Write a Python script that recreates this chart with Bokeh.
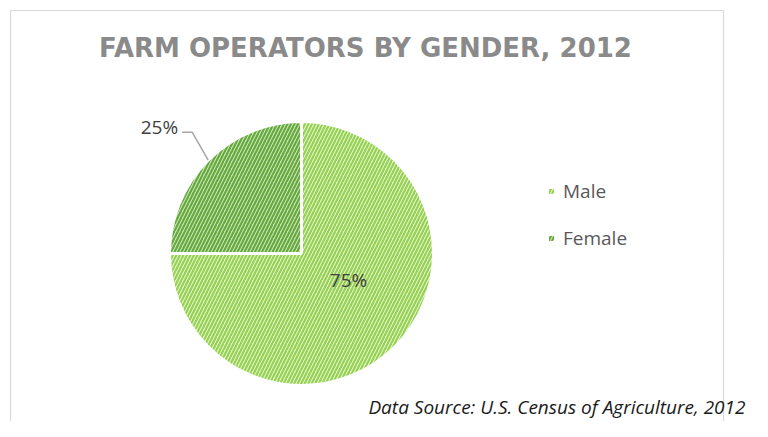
import math
from bokeh.plotting import figure
from bokeh.models import Range1d, ColumnDataSource, Legend, LegendItem
from bokeh.core.properties import value
from bokeh.embed import file_html
from bokeh.resources import INLINE

# ---- data ----
categories = ["Male", "Female"]
shares = [75, 25]
title_text = "FARM OPERATORS BY GENDER, 2012"
source_text = "Data Source: U.S. Census of Agriculture, 2012"

# ---- styles ----
fill_colors = {"Male": "#e3f4c6", "Female": "#c6e2b2"}
hatch_colors = {"Male": "#92d050", "Female": "#62a83a"}

W, H = 752, 421
p = figure(width=W, height=H, output_backend="svg", toolbar_location=None,
           x_range=Range1d(0, W), y_range=Range1d(0, H), min_border=0)
p.axis.visible = False
p.grid.visible = False
p.outline_line_color = None
p.background_fill_color = "white"

# chart frame border
p.quad(left=[10], right=[723], top=[411], bottom=[-30], fill_color=None,
       line_color="#d9d9d9", line_width=1.2)

cx, cy, r = 301, 168, 132

# pie: Female drawn first counterclockwise from top, then Male
order = ["Female", "Male"]
total = sum(shares)
start = math.pi / 2
renderers = {}
mids = {}
for cat in order:
    v = shares[categories.index(cat)]
    end = start + 2 * math.pi * v / total
    src = ColumnDataSource(dict(x=[cx], y=[cy], s=[start], e=[end]))
    renderers[cat] = p.wedge(x="x", y="y", radius=r, start_angle="s", end_angle="e",
                             source=src, fill_color=fill_colors[cat],
                             hatch_pattern="/", hatch_color=hatch_colors[cat],
                             hatch_scale=7, hatch_weight=2,
                             line_color="white", line_width=3)
    mids[cat] = (start + end) / 2
    start = end

# Labels
fa = mids["Female"]
ax_, ay_ = cx + r * math.cos(fa), cy + r * math.sin(fa)
p.line(x=[ax_, ax_ - 16, ax_ - 26], y=[ay_, ay_ + 28, ay_ + 28],
       line_color="#a6a6a6", line_width=1.5)
p.text(x=[ax_ - 30], y=[ay_ + 33], text=[f"{shares[1]}%"], text_align="right",
       text_baseline="middle", text_font=value("Open Sans"), text_font_size="19px",
       text_color="#404040")
p.text(x=[348], y=[142], text=[f"{shares[0]}%"], text_align="center",
       text_baseline="middle", text_font=value("Open Sans"), text_font_size="19px",
       text_color="#404040")

# Title
p.text(x=[365], y=[374], text=[title_text], text_align="center", text_baseline="middle",
       text_font=value("DejaVu Sans"), text_font_style="bold", text_font_size="26px",
       text_color="#8a8a8a")

# Footnote
p.text(x=[745], y=[15], text=[source_text], text_align="right", text_baseline="middle",
       text_font=value("Open Sans"), text_font_style="italic", text_font_size="19px",
       text_color="#1a1a1a")

legend = Legend(items=[LegendItem(label=c, renderers=[renderers[c]]) for c in categories],
                location=(546, 170), glyph_width=10, glyph_height=10,
                label_text_font="Open Sans", label_text_font_size="19px",
                label_text_color="#595959", spacing=21, padding=0,
                border_line_color=None, background_fill_alpha=0, label_standoff=7)
p.add_layout(legend, "center")

open("out.html", "w").write(file_html(p, INLINE))
